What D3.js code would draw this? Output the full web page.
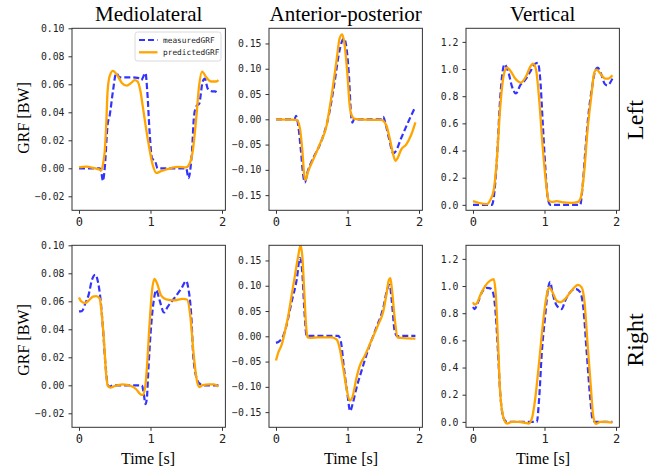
<!DOCTYPE html>
<html><head><meta charset="utf-8">
<script src="https://cdn.jsdelivr.net/npm/d3@7"></script>
<style>body{margin:0;background:#fff}svg{display:block}</style>
</head><body>
<script>
// ---- data (time [s], GRF [BW]) ----
const columnTitles = ["Mediolateral", "Anterior-posterior", "Vertical"];
const rowLabels = ["Left", "Right"];
const seriesNames = ["measuredGRF", "predictedGRF"];
const xTicks = [0, 1, 2];
const yTicksML = [-0.02, 0, 0.02, 0.04, 0.06, 0.08, 0.10];
const yTicksAP = [-0.15, -0.10, -0.05, 0, 0.05, 0.10, 0.15];
const yTicksV = [0, 0.2, 0.4, 0.6, 0.8, 1.0, 1.2];
const yDomML = [-0.03, 0.10], yDomAP = [-0.18, 0.18], yDomV = [-0.04, 1.3];

const measLeftML = [[0,0],[0.29,0],[0.31,-0.002],[0.335,-0.009],[0.36,0.0],[0.4,0.031],[0.43,0.038],[0.475,0.055],[0.52,0.068],[0.57,0.065],[0.73,0.065],[0.82,0.0646],[0.87,0.063],[0.93,0.068],[0.955,0.055],[0.99,0.024],[1.02,0.0073],[1.065,0.005],[1.1,0],[1.5,0],[1.53,-0.007],[1.58,0.012],[1.61,0.038],[1.65,0.045],[1.68,0.046],[1.73,0.062],[1.76,0.064],[1.8,0.057],[1.86,0.055],[1.9,0.055],[1.95,0.053]];
const predLeftML = [[0,0.0007],[0.1,0.0012],[0.2,0.0003],[0.28,-0.0008],[0.31,-0.0015],[0.34,0.004],[0.36,0.012],[0.38,0.03],[0.4,0.055],[0.43,0.066],[0.475,0.0696],[0.54,0.066],[0.6,0.061],[0.67,0.059],[0.73,0.061],[0.78,0.063],[0.82,0.062],[0.86,0.055],[0.89,0.045],[0.96,0.0215],[1.03,0.0026],[1.08,-0.0033],[1.15,-0.002],[1.29,0.0002],[1.38,0.001],[1.5,0.0007],[1.54,0.0026],[1.59,0.012],[1.64,0.036],[1.68,0.059],[1.72,0.069],[1.78,0.065],[1.85,0.062],[1.92,0.062],[1.95,0.063]];

const measLeftAP = [[0,0],[0.26,0],[0.28,0.007],[0.31,-0.011],[0.35,-0.064],[0.38,-0.11],[0.405,-0.125],[0.44,-0.105],[0.5,-0.083],[0.64,-0.041],[0.73,0.002],[0.82,0.074],[0.89,0.137],[0.95,0.16],[0.98,0.147],[1.02,0.0875],[1.05,0.009],[1.07,-0.0066],[1.09,0],[1.48,0],[1.5,0.005],[1.53,-0.008],[1.58,-0.0375],[1.64,-0.067],[1.67,-0.064],[1.75,-0.0375],[1.85,-0.005],[1.95,0.025]];
const predLeftAP = [[0,0],[0.15,-0.0005],[0.29,-0.001],[0.335,-0.018],[0.37,-0.064],[0.395,-0.11],[0.414,-0.12],[0.45,-0.103],[0.52,-0.08],[0.61,-0.05],[0.71,-0.011],[0.75,0.022],[0.8,0.068],[0.85,0.12],[0.89,0.16],[0.926,0.168],[0.96,0.147],[1.0,0.0875],[1.03,0.028],[1.056,0.0086],[1.1,0.0007],[1.24,-0.0007],[1.47,-0.0013],[1.54,-0.011],[1.59,-0.0375],[1.64,-0.07],[1.67,-0.082],[1.71,-0.074],[1.75,-0.06],[1.82,-0.05],[1.89,-0.031],[1.95,-0.006]];

const measLeftV = [[0,0],[0.265,0],[0.3,0.096],[0.335,0.34],[0.38,0.78],[0.414,0.98],[0.44,1.035],[0.5,0.967],[0.546,0.87],[0.6,0.82],[0.66,0.88],[0.73,0.92],[0.8,0.98],[0.87,1.04],[0.907,1.045],[0.94,0.93],[0.977,0.59],[1.01,0.29],[1.047,0.047],[1.08,0],[1.5,0],[1.53,0.12],[1.57,0.39],[1.61,0.64],[1.67,0.88],[1.71,0.99],[1.745,1.01],[1.79,0.967],[1.84,0.893],[1.88,0.88],[1.95,0.93]];
const predLeftV = [[0,0.027],[0.08,0.015],[0.195,0.005],[0.24,0.034],[0.29,0.108],[0.335,0.34],[0.38,0.71],[0.43,0.955],[0.475,1.01],[0.52,0.99],[0.59,0.93],[0.67,0.9],[0.75,0.955],[0.8,1.016],[0.84,1.04],[0.88,1.0],[0.925,0.78],[0.97,0.46],[1.02,0.17],[1.056,0.034],[1.1,0.022],[1.17,0.027],[1.24,0.02],[1.38,0.015],[1.47,0.022],[1.51,0.059],[1.56,0.27],[1.6,0.54],[1.65,0.78],[1.7,0.98],[1.73,0.996],[1.78,0.967],[1.85,0.93],[1.89,0.93],[1.95,0.955]];

const measRightML = [[0,0.0528],[0.04,0.053],[0.09,0.0587],[0.135,0.0646],[0.18,0.075],[0.228,0.079],[0.265,0.074],[0.3,0.062],[0.335,0.041],[0.37,0.015],[0.405,0],[0.43,-0.001],[0.475,0],[0.88,0],[0.907,-0.0064],[0.93,-0.0135],[0.95,-0.0088],[0.972,0.0125],[1.01,0.043],[1.047,0.061],[1.08,0.068],[1.126,0.061],[1.19,0.052],[1.24,0.056],[1.33,0.062],[1.43,0.069],[1.5,0.0745],[1.53,0.069],[1.57,0.05],[1.6,0.0196],[1.66,0.003],[1.7,0.0007],[1.73,0],[1.95,0]];
const predRightML = [[0,0.0627],[0.03,0.06],[0.08,0.0587],[0.126,0.06],[0.195,0.0634],[0.24,0.0637],[0.29,0.062],[0.31,0.055],[0.35,0.0315],[0.38,0.0078],[0.405,-0.0005],[0.44,-0.0017],[0.5,-0.0005],[0.61,0.0007],[0.73,-0.0005],[0.8,-0.0028],[0.86,-0.0064],[0.89,-0.0069],[0.925,-0.0017],[0.95,0.0125],[0.986,0.043],[1.02,0.067],[1.056,0.076],[1.09,0.073],[1.15,0.064],[1.22,0.0613],[1.33,0.0606],[1.45,0.0618],[1.51,0.0613],[1.56,0.048],[1.6,0.024],[1.65,0.003],[1.68,-0.0012],[1.73,0.0002],[1.82,0.0007],[1.89,0.0007],[1.95,-0.001]];

const measRightAP = [[0,-0.013],[0.056,-0.0086],[0.1,0],[0.15,0.023],[0.22,0.069],[0.29,0.112],[0.335,0.155],[0.367,0.128],[0.395,0.056],[0.43,0],[0.45,0.001],[0.87,0.001],[0.907,-0.01],[0.95,-0.0625],[1.0,-0.115],[1.037,-0.148],[1.07,-0.135],[1.126,-0.102],[1.195,-0.069],[1.29,-0.026],[1.4,0.016],[1.5,0.056],[1.56,0.095],[1.59,0.102],[1.62,0.069],[1.66,0.01],[1.7,0],[1.77,0.001],[1.95,0.001]];
const predRightAP = [[0,-0.048],[0.03,-0.033],[0.08,-0.0165],[0.126,0.01],[0.17,0.039],[0.22,0.082],[0.265,0.12],[0.31,0.158],[0.344,0.18],[0.37,0.155],[0.395,0.089],[0.42,0.023],[0.44,-0.002],[0.475,-0.0033],[0.59,-0.002],[0.78,-0.002],[0.85,-0.0066],[0.89,-0.023],[0.94,-0.0625],[0.986,-0.102],[1.03,-0.127],[1.065,-0.122],[1.126,-0.082],[1.17,-0.059],[1.24,-0.039],[1.33,-0.0099],[1.43,0.023],[1.5,0.049],[1.54,0.079],[1.58,0.112],[1.6,0.115],[1.62,0.095],[1.66,0.036],[1.7,-0.002],[1.75,-0.0033],[1.95,-0.0046]];

const measRightV = [[0,0.845],[0.023,0.83],[0.07,0.88],[0.126,0.955],[0.195,0.987],[0.256,0.98],[0.29,0.93],[0.32,0.78],[0.35,0.514],[0.38,0.22],[0.43,0.025],[0.475,0],[0.893,0],[0.925,0.17],[0.963,0.514],[1.01,0.78],[1.05,0.98],[1.08,1.03],[1.11,0.955],[1.17,0.857],[1.24,0.83],[1.29,0.893],[1.36,0.955],[1.43,0.98],[1.5,0.955],[1.545,0.83],[1.59,0.514],[1.64,0.17],[1.67,0.025],[1.71,0],[1.95,0]];
const predRightV = [[0,0.881],[0.023,0.864],[0.056,0.874],[0.1,0.93],[0.17,1.0],[0.24,1.04],[0.29,1.05],[0.32,0.93],[0.35,0.59],[0.38,0.22],[0.43,0.024],[0.475,-0.012],[0.546,0],[0.64,0],[0.73,-0.007],[0.78,-0.012],[0.823,0.024],[0.87,0.17],[0.925,0.44],[0.986,0.76],[1.03,0.93],[1.065,0.99],[1.1,0.967],[1.17,0.893],[1.22,0.881],[1.29,0.906],[1.38,0.967],[1.47,1.008],[1.52,0.99],[1.56,0.88],[1.6,0.59],[1.65,0.245],[1.68,0.049],[1.72,-0.015],[1.78,0],[1.89,-0.002],[1.95,-0.006]];

// ---- layout ----
const W = 662, H = 475;
const colLeft = [72, 269, 466], panelW = 153.4;
const rowTop = [28.3, 245.3], panelH = 182;
const xlabelX = [148, 351, 543];
const measColor = "rgba(0,0,255,0.8)", predColor = "#FFA500";
const serif = "'Liberation Serif','Times New Roman',serif";
const mono = "'DejaVu Sans Mono',monospace";

const panels = [
  {r:0,c:0,meas:measLeftML,pred:predLeftML,dom:yDomML,ticks:yTicksML,fmt:".2f"},
  {r:0,c:1,meas:measLeftAP,pred:predLeftAP,dom:yDomAP,ticks:yTicksAP,fmt:".2f"},
  {r:0,c:2,meas:measLeftV,pred:predLeftV,dom:yDomV,ticks:yTicksV,fmt:".1f"},
  {r:1,c:0,meas:measRightML,pred:predRightML,dom:yDomML,ticks:yTicksML,fmt:".2f"},
  {r:1,c:1,meas:measRightAP,pred:predRightAP,dom:yDomAP,ticks:yTicksAP,fmt:".2f"},
  {r:1,c:2,meas:measRightV,pred:predRightV,dom:yDomV,ticks:yTicksV,fmt:".1f"}
];

const svg = d3.select("body").append("svg").attr("width", W).attr("height", H);

panels.forEach(p => {
  const x0 = colLeft[p.c], y0 = rowTop[p.r];
  const x = d3.scaleLinear().domain([-0.0975, 2.0475]).range([x0, x0 + panelW]);
  const y = d3.scaleLinear().domain(p.dom).range([y0 + panelH, y0]);
  const g = svg.append("g");
  const clipId = "clip" + p.r + p.c;
  g.append("clipPath").attr("id", clipId).append("rect")
    .attr("x", x0).attr("y", y0).attr("width", panelW).attr("height", panelH);

  const line = d3.line().x(d => x(d[0])).y(d => y(d[1])).curve(d3.curveMonotoneX);
  const plot = g.append("g").attr("clip-path", `url(#${clipId})`);
  plot.append("path").attr("d", line(p.meas)).attr("fill", "none")
    .attr("stroke", measColor).attr("stroke-width", 2.2).attr("stroke-dasharray", "6,3");
  plot.append("path").attr("d", line(p.pred)).attr("fill", "none")
    .attr("stroke", predColor).attr("stroke-width", 2.3);

  const ax = g.append("g").attr("transform", `translate(0,${y0 + panelH})`)
    .call(d3.axisBottom(x).tickValues(xTicks).tickFormat(d3.format("d")).tickSize(3.5).tickPadding(3.5));
  ax.select(".domain").remove();
  ax.selectAll("text").attr("font-family", mono).attr("font-size", 12).attr("fill", "#222");
  ax.selectAll("line").attr("stroke", "#333");

  const ay = g.append("g").attr("transform", `translate(${x0},0)`)
    .call(d3.axisLeft(y).tickValues(p.ticks).tickFormat(d3.format(p.fmt)).tickSize(3.5).tickPadding(4));
  ay.select(".domain").remove();
  ay.selectAll("text").attr("font-family", mono).attr("font-size", 9.8).attr("fill", "#222");
  ay.selectAll("line").attr("stroke", "#333");

  g.append("rect").attr("x", x0).attr("y", y0).attr("width", panelW).attr("height", panelH)
    .attr("fill", "none").attr("stroke", "#333").attr("stroke-width", 1);

  if (p.r === 0) {
    g.append("text").attr("x", x0 + panelW / 2).attr("y", 21).attr("text-anchor", "middle")
      .attr("font-family", serif).attr("font-size", 21).attr("fill", "#000").text(columnTitles[p.c]);
  }
  if (p.r === 1) {
    g.append("text").attr("x", xlabelX[p.c]).attr("y", 464).attr("text-anchor", "middle")
      .attr("font-family", serif).attr("font-size", 16).attr("fill", "#000").text("Time [s]");
  }
  if (p.c === 0) {
    const cy = p.r === 0 ? 118 : 340;
    g.append("text").attr("transform", `translate(29,${cy}) rotate(-90)`).attr("text-anchor", "middle")
      .attr("font-family", serif).attr("font-size", 16).attr("fill", "#000").text("GRF [BW]");
  }
  if (p.c === 2) {
    const cy = p.r === 0 ? 120 : 340;
    g.append("text").attr("transform", `translate(643,${cy}) rotate(-90)`).attr("text-anchor", "middle")
      .attr("font-family", serif).attr("font-size", 24).attr("fill", "#000").text(rowLabels[p.r]);
  }
  if (p.r === 0 && p.c === 0) {
    const lg = g.append("g");
    lg.append("rect").attr("x", 135).attr("y", 32).attr("width", 86).attr("height", 29).attr("rx", 2.5)
      .attr("fill", "#fff").attr("fill-opacity", 0.8).attr("stroke", "#d0d0d0").attr("stroke-width", 0.8);
    [measColor, predColor].forEach((col, i) => {
      const ly = 40 + i * 12.3;
      lg.append("line").attr("x1", 139).attr("x2", 157.5).attr("y1", ly).attr("y2", ly)
        .attr("stroke", col).attr("stroke-width", i === 0 ? 2.2 : 2.3)
        .attr("stroke-dasharray", i === 0 ? "6,3" : null);
      lg.append("text").attr("x", 163).attr("y", ly + 2.8).attr("font-family", mono)
        .attr("font-size", 7.8).attr("fill", "#222").text(seriesNames[i]);
    });
  }
});
</script>
</body></html>
